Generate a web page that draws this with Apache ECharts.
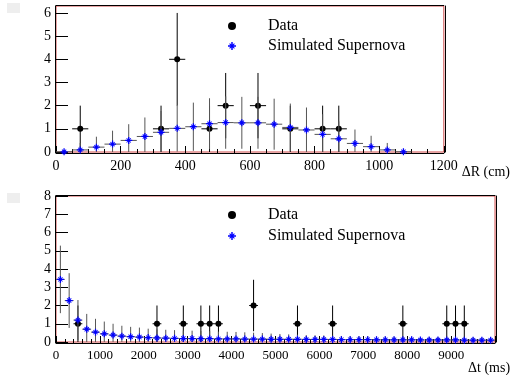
<!DOCTYPE html>
<html>
<head>
<meta charset="utf-8">
<script src="https://cdn.jsdelivr.net/npm/echarts@6/dist/echarts.min.js"></script>
<style>
  html, body { margin: 0; padding: 0; background: #fff; }
  #main { width: 511px; height: 375px; }
</style>
</head>
<body>
<div id="main"></div>
<script>
// top panel: distance dR (cm), bins of 50
var rBins = [25, 75, 125, 175, 225, 275, 325, 375, 425, 475, 525, 575, 625, 675, 725, 775, 825, 875, 925, 975, 1025, 1075];
var rSim = [0.01, 0.09, 0.21, 0.34, 0.5, 0.67, 0.85, 1.02, 1.09, 1.22, 1.27, 1.26, 1.26, 1.2, 1.06, 0.95, 0.76, 0.57, 0.37, 0.23, 0.09, 0.01];
var rSimErr = [0.08, 0.3, 0.45, 0.58, 0.7, 0.82, 0.92, 1.0, 1.04, 1.1, 1.13, 1.12, 1.12, 1.1, 1.03, 0.97, 0.87, 0.75, 0.6, 0.47, 0.3, 0.08];
var rDataX = [75, 325, 375, 475, 525, 625, 725, 825, 875];
var rData = [1, 1, 4, 1, 2, 2, 1, 1, 1];
var rDataErr = [1, 1, 2, 1, 1.41, 1.41, 1, 1, 1];
var rHalf = 25;
var rYTicks = [0, 1, 2, 3, 4, 5, 6];

// bottom panel: time dt (ms), bins of 200
var tBins = [100, 300, 500, 700, 900, 1100, 1300, 1500, 1700, 1900,
  2100, 2300, 2500, 2700, 2900, 3100, 3300, 3500, 3700, 3900,
  4100, 4300, 4500, 4700, 4900, 5100, 5300, 5500, 5700, 5900,
  6100, 6300, 6500, 6700, 6900, 7100, 7300, 7500, 7700, 7900,
  8100, 8300, 8500, 8700, 8900, 9100, 9300, 9500, 9700, 9900];
var tSim = [3.43, 2.27, 1.2, 0.7, 0.54, 0.45, 0.38, 0.32, 0.29, 0.27,
  0.24, 0.22, 0.21, 0.2, 0.19, 0.19, 0.18, 0.18, 0.17, 0.17,
  0.17, 0.16, 0.16, 0.16, 0.15, 0.15, 0.15, 0.15, 0.14, 0.14,
  0.14, 0.14, 0.13, 0.13, 0.13, 0.13, 0.12, 0.12, 0.12, 0.12,
  0.12, 0.11, 0.11, 0.11, 0.11, 0.11, 0.1, 0.1, 0.1, 0.1];
var tSimErr = [1.85, 1.5, 1.1, 0.84, 0.73, 0.67, 0.62, 0.57, 0.54, 0.52,
  0.49, 0.47, 0.46, 0.45, 0.44, 0.43, 0.42, 0.41, 0.4, 0.39,
  0.38, 0.37, 0.35, 0.33, 0.31, 0.29, 0.27, 0.25, 0.24, 0.23,
  0.22, 0.21, 0.2, 0.2, 0.19, 0.19, 0.18, 0.18, 0.17, 0.17,
  0.17, 0.16, 0.16, 0.16, 0.15, 0.15, 0.15, 0.15, 0.14, 0.14];
var tDataX = [500, 2300, 2900, 3300, 3500, 3700, 4500, 5500, 6300, 7900, 8900, 9100, 9300];
var tData = [1, 1, 1, 1, 1, 1, 2, 1, 1, 1, 1, 1, 1];
var tDataErr = [1, 1, 1, 1, 1, 1, 1.41, 1, 1, 1, 1, 1, 1];
var tHalf = 100;

var serif = 'Liberation Serif';
var starPath = 'path://M0,4.1L10,4.1L10,5.9L0,5.9Z M4.1,0L5.9,0L5.9,10L4.1,10Z M2.4,1.5L8.5,7.6L7.6,8.5L1.5,2.4Z M7.6,1.5L8.5,2.4L2.4,8.5L1.5,7.6Z';

function pts(xs, ys, es, hw) {
  return xs.map(function (x, i) { return [x, ys[i], es[i], hw]; });
}

function errBars(color) {
  return function (params, api) {
    var x = api.value(0), y = api.value(1), e = api.value(2), hw = api.value(3);
    var lo = api.coord([x, Math.max(0, y - e)]);
    var hi = api.coord([x, y + e]);
    var l = api.coord([x - hw, y]);
    var r = api.coord([x + hw, y]);
    var st = { stroke: color, lineWidth: 1 };
    return {
      type: 'group',
      children: [
        { type: 'line', shape: { x1: lo[0], y1: lo[1], x2: hi[0], y2: hi[1] }, style: st },
        { type: 'line', shape: { x1: l[0], y1: l[1], x2: r[0], y2: r[1] }, style: st }
      ]
    };
  };
}

var chart = echarts.init(document.getElementById('main'));

function xAx(grid, max, interval, split, fs, name, nameGap, namePad) {
  return {
    type: 'value', gridIndex: grid, min: 0, max: max, interval: interval,
    position: 'bottom', offset: 1,
    name: name, nameLocation: 'end', nameGap: nameGap,
    nameTextStyle: { fontFamily: serif, fontSize: 14, color: '#000', align: 'right', verticalAlign: 'top', padding: namePad },
    axisLine: { show: true, onZero: false, lineStyle: { color: '#000', width: 1 } },
    axisTick: { show: true, inside: true, length: 7, lineStyle: { color: '#000' } },
    minorTick: { show: true, splitNumber: split, length: 4, lineStyle: { color: '#000' } },
    axisLabel: {
      fontFamily: serif, fontSize: fs, color: '#000', margin: 6,
      formatter: function (v) { return v === 10000 ? '' : String(v); }
    },
    splitLine: { show: false }
  };
}

function yAx(grid, max, fs, ticks) {
  var ax = {
    type: 'value', gridIndex: grid, min: 0, max: max, interval: 1, offset: 1,
    axisLine: { show: true, onZero: false, lineStyle: { color: '#000', width: 1 } },
    axisTick: { show: true, inside: true, length: 13, lineStyle: { color: '#000' } },
    axisLabel: { fontFamily: serif, fontSize: fs, color: '#000', margin: 4 },
    splitLine: { show: false }
  };
  if (ticks) {
    ax.axisTick.customValues = ticks;
    ax.axisLabel.customValues = ticks;
  }
  return ax;
}

function frameX(grid, max) {
  return {
    type: 'value', gridIndex: grid, min: 0, max: max, position: 'top', offset: 1,
    axisLine: { show: true, onZero: false, lineStyle: { color: '#000' } },
    axisTick: { show: false }, axisLabel: { show: false }, splitLine: { show: false }
  };
}
function frameY(grid, max) {
  return {
    type: 'value', gridIndex: grid, min: 0, max: max, position: 'right', offset: 1,
    axisLine: { show: true, onZero: false, lineStyle: { color: '#000' } },
    axisTick: { show: false }, axisLabel: { show: false }, splitLine: { show: false }
  };
}

function legendFor(top, gap) {
  return {
    top: top, left: 223, orient: 'vertical', itemGap: gap,
    itemWidth: 8, itemHeight: 8, selectedMode: false,
    data: [{ name: 'Data', icon: 'circle' }, { name: 'Simulated Supernova', icon: starPath }],
    textStyle: { fontFamily: serif, fontSize: 16, color: '#000', padding: [0, 0, 0, 27] }
  };
}

var option = {
  animation: false,
  backgroundColor: '#fff',
  grid: [
    { left: 56, right: 15, top: 6, bottom: 223, show: true, borderColor: '#d04848', borderWidth: 1, backgroundColor: 'transparent' },
    { left: 56, right: 15, top: 196, bottom: 33, show: true, borderColor: '#d04848', borderWidth: 1, backgroundColor: 'transparent' }
  ],
  legend: [legendFor(13, 4), legendFor(202, 5)],
  xAxis: [
    xAx(0, 1200, 200, 4, 14, 'ΔR (cm)', 13, [12, 0, 0, 0]),
    xAx(1, 10000, 1000, 5, 13, 'Δt (ms)', 0.5, [18, 0, 0, 0]),
    frameX(0, 1200),
    frameX(1, 10000)
  ],
  yAxis: [
    yAx(0, 6.3, 14, rYTicks),
    yAx(1, 8, 14, null),
    frameY(0, 6.3),
    frameY(1, 8)
  ],
  graphic: [
    { type: 'rect', shape: { x: 7, y: 3, width: 13, height: 10 }, style: { fill: '#eeeeee' } },
    { type: 'rect', shape: { x: 7, y: 193, width: 13, height: 10 }, style: { fill: '#eeeeee' } }
  ],
  series: [
    { type: 'custom', name: 'rDataErr', xAxisIndex: 0, yAxisIndex: 0, renderItem: errBars('#000'), data: pts(rDataX, rData, rDataErr, rHalf), z: 2 },
    { type: 'scatter', name: 'Data', xAxisIndex: 0, yAxisIndex: 0, symbol: 'circle', symbolSize: 6, itemStyle: { color: '#000', opacity: 1 }, data: rDataX.map(function (x, i) { return [x, rData[i]]; }), z: 3 },
    { type: 'custom', name: 'rSimErr', xAxisIndex: 0, yAxisIndex: 0, renderItem: errBars('#555'), data: pts(rBins, rSim, rSimErr, rHalf), z: 4 },
    { type: 'scatter', name: 'Simulated Supernova', xAxisIndex: 0, yAxisIndex: 0, symbol: starPath, symbolSize: 7, itemStyle: { color: '#0000ff', opacity: 1 }, data: rBins.map(function (x, i) { return [x, rSim[i]]; }), z: 5 },

    { type: 'custom', name: 'tDataErr', xAxisIndex: 1, yAxisIndex: 1, renderItem: errBars('#000'), data: pts(tDataX, tData, tDataErr, tHalf), z: 2 },
    { type: 'scatter', name: 'Data', xAxisIndex: 1, yAxisIndex: 1, symbol: 'circle', symbolSize: 6, itemStyle: { color: '#000', opacity: 1 }, data: tDataX.map(function (x, i) { return [x, tData[i]]; }), z: 3 },
    { type: 'custom', name: 'tSimErr', xAxisIndex: 1, yAxisIndex: 1, renderItem: errBars('#555'), data: pts(tBins, tSim, tSimErr, tHalf), z: 4 },
    { type: 'scatter', name: 'Simulated Supernova', xAxisIndex: 1, yAxisIndex: 1, symbol: starPath, symbolSize: 7, itemStyle: { color: '#0000ff', opacity: 1 }, data: tBins.map(function (x, i) { return [x, tSim[i]]; }), z: 5 }
  ]
};

chart.setOption(option);
</script>
</body>
</html>
